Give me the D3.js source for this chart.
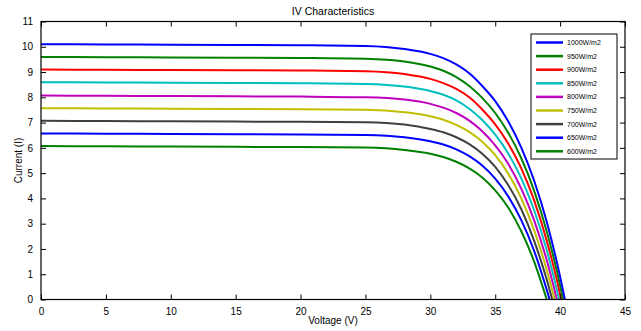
<!DOCTYPE html>
<html>
<head>
<meta charset="utf-8">
<script src="https://cdn.jsdelivr.net/npm/d3@7"></script>
<style>
    body { margin: 0; background: #fff; }
    svg text { font-family: "Liberation Sans", Arial, sans-serif; fill: #000; }
</style>
</head>
<body>
<script>
(function(){

    //voltage grid (V) shared by all curves
    var voltage = [0, 5, 10, 15, 20, 25, 28, 30, 31, 32, 33, 34, 35, 36, 37, 38, 39, 40];

    //legend labels, top to bottom
    var labels = ["1000W/m2", "950W/m2", "900W/m2", "850W/m2", "800W/m2",
                  "750W/m2", "700W/m2", "650W/m2", "600W/m2"];

    //MATLAB default line colours
    var colors = ["#0000ff", "#008000", "#ff0000", "#00bfbf", "#bf00bf",
                  "#bfbf00", "#404040", "#0000ff", "#008000"];

    //current (A) at each voltage grid point
    var i1000 = [10.10, 10.09, 10.08, 10.07, 10.06, 10.03, 9.91, 9.72, 9.55, 9.30, 8.95, 8.45, 7.85, 7.05, 6.02, 4.70, 3.02, 0.90];
    var i950  = [9.60, 9.59, 9.58, 9.57, 9.56, 9.53, 9.42, 9.22, 9.05, 8.80, 8.45, 7.98, 7.38, 6.60, 5.60, 4.30, 2.64, 0.56];
    var i900  = [9.10, 9.09, 9.08, 9.07, 9.06, 9.03, 8.92, 8.73, 8.56, 8.33, 8.00, 7.52, 6.93, 6.17, 5.20, 3.92, 2.27, 0.20];
    var i850  = [8.60, 8.59, 8.58, 8.57, 8.56, 8.53, 8.43, 8.25, 8.10, 7.88, 7.55, 7.10, 6.52, 5.78, 4.80, 3.53, 1.90];
    var i800  = [8.07, 8.06, 8.05, 8.04, 8.03, 8.00, 7.91, 7.74, 7.59, 7.38, 7.08, 6.66, 6.10, 5.37, 4.40, 3.13, 1.50];
    var i750  = [7.57, 7.56, 7.55, 7.54, 7.53, 7.51, 7.41, 7.25, 7.11, 6.91, 6.63, 6.24, 5.71, 4.98, 4.01, 2.74, 1.11];
    var i700  = [7.07, 7.06, 7.05, 7.04, 7.03, 7.01, 6.92, 6.75, 6.62, 6.42, 6.15, 5.77, 5.25, 4.53, 3.58, 2.32, 0.73];
    var i650  = [6.57, 6.56, 6.55, 6.54, 6.53, 6.51, 6.42, 6.26, 6.13, 5.94, 5.67, 5.30, 4.78, 4.08, 3.15, 1.92, 0.33];
    var i600  = [6.07, 6.06, 6.05, 6.04, 6.03, 6.01, 5.92, 5.77, 5.64, 5.45, 5.19, 4.83, 4.32, 3.64, 2.71, 1.50];

    //open circuit voltage of each curve (where it meets I = 0)
    var voc = [40.37, 40.23, 40.08, 39.93, 39.75, 39.58, 39.39, 39.19, 38.97];

    var currents = [i1000, i950, i900, i850, i800, i750, i700, i650, i600];

    var xTicks = [0, 5, 10, 15, 20, 25, 30, 35, 40, 45];
    var yTicks = [0, 1, 2, 3, 4, 5, 6, 7, 8, 9, 10, 11];

    window.onload = drawChart();

    function drawChart() {
        var width = 641, height = 331;
        var left = 41, right = 625, top = 21.5, bottom = 299.5;
        var tickLen = 5;

        var svg = d3.select("body")
            .append("svg")
            .attr("width", width)
            .attr("height", height);

        var x = d3.scaleLinear().domain([0, 45]).range([left, right]);
        var y = d3.scaleLinear().domain([0, 11]).range([bottom, top]);

        //build [V, I] points for each curve, ending at Voc
        var series = currents.map(function(cur, k) {
            var pts = cur.map(function(c, j) { return [voltage[j], c]; });
            pts.push([voc[k], 0]);
            return { label: labels[k], color: colors[k], pts: pts };
        });

        //draw the curves, lowest irradiance first so 1000 sits on top
        var line = d3.line()
            .x(function(d) { return x(d[0]); })
            .y(function(d) { return y(d[1]); })
            .curve(d3.curveMonotoneX);

        svg.append("defs").append("clipPath").attr("id", "plotclip")
            .append("rect")
            .attr("x", left).attr("y", top)
            .attr("width", right - left).attr("height", bottom - top);

        svg.append("g")
            .attr("clip-path", "url(#plotclip)")
            .selectAll("path")
            .data(series.slice().reverse())
            .enter()
            .append("path")
            .attr("d", function(d) { return line(d.pts); })
            .attr("fill", "none")
            .attr("stroke", function(d) { return d.color; })
            .attr("stroke-width", 2)
            .attr("stroke-linejoin", "round");

        //axes, MATLAB style: ticks pointing in, box all round
        var axisStyle = function(g) {
            g.select(".domain").remove();
            g.selectAll("line").attr("stroke", "#000").attr("stroke-width", 1);
            g.selectAll("text").style("font-size", "10px");
        };

        svg.append("g")
            .attr("transform", "translate(0," + bottom + ")")
            .call(d3.axisBottom(x).tickValues(xTicks).tickSize(-tickLen).tickPadding(tickLen + 3))
            .call(axisStyle);

        svg.append("g")
            .attr("transform", "translate(0," + top + ")")
            .call(d3.axisTop(x).tickValues(xTicks).tickSize(-tickLen).tickFormat(""))
            .call(axisStyle);

        svg.append("g")
            .attr("transform", "translate(" + left + ",0)")
            .call(d3.axisLeft(y).tickValues(yTicks).tickSize(-tickLen).tickPadding(tickLen + 3))
            .call(axisStyle);

        svg.append("g")
            .attr("transform", "translate(" + right + ",0)")
            .call(d3.axisRight(y).tickValues(yTicks).tickSize(-tickLen).tickFormat(""))
            .call(axisStyle);

        svg.append("rect")
            .attr("x", left).attr("y", top)
            .attr("width", right - left).attr("height", bottom - top)
            .attr("fill", "none")
            .attr("stroke", "#000")
            .attr("stroke-width", 1.2);

        //title and axis labels
        svg.append("text")
            .attr("x", (left + right) / 2).attr("y", 15)
            .attr("text-anchor", "middle")
            .style("font-size", "10.5px")
            .text("IV Characteristics");

        svg.append("text")
            .attr("x", (left + right) / 2).attr("y", 324)
            .attr("text-anchor", "middle")
            .style("font-size", "10px")
            .text("Voltage (V)");

        svg.append("text")
            .attr("transform", "translate(22," + (top + bottom) / 2 + ") rotate(-90)")
            .attr("text-anchor", "middle")
            .style("font-size", "10px")
            .text("Current (I)");

        //legend
        var lg = svg.append("g").attr("transform", "translate(531,34)");
        lg.append("rect")
            .attr("width", 86).attr("height", 125)
            .attr("fill", "#fff")
            .attr("stroke", "#000")
            .attr("stroke-width", 1);

        var rows = lg.selectAll(".row")
            .data(series)
            .enter()
            .append("g")
            .attr("class", "row")
            .attr("transform", function(d, k) { return "translate(0," + (8.5 + k * 13.6) + ")"; });

        rows.append("line")
            .attr("x1", 5).attr("x2", 32)
            .attr("stroke", function(d) { return d.color; })
            .attr("stroke-width", 2.5);

        rows.append("text")
            .attr("x", 36).attr("y", 2.5)
            .style("font-size", "7px")
            .text(function(d) { return d.label; });
    };
})();
</script>
</body>
</html>
